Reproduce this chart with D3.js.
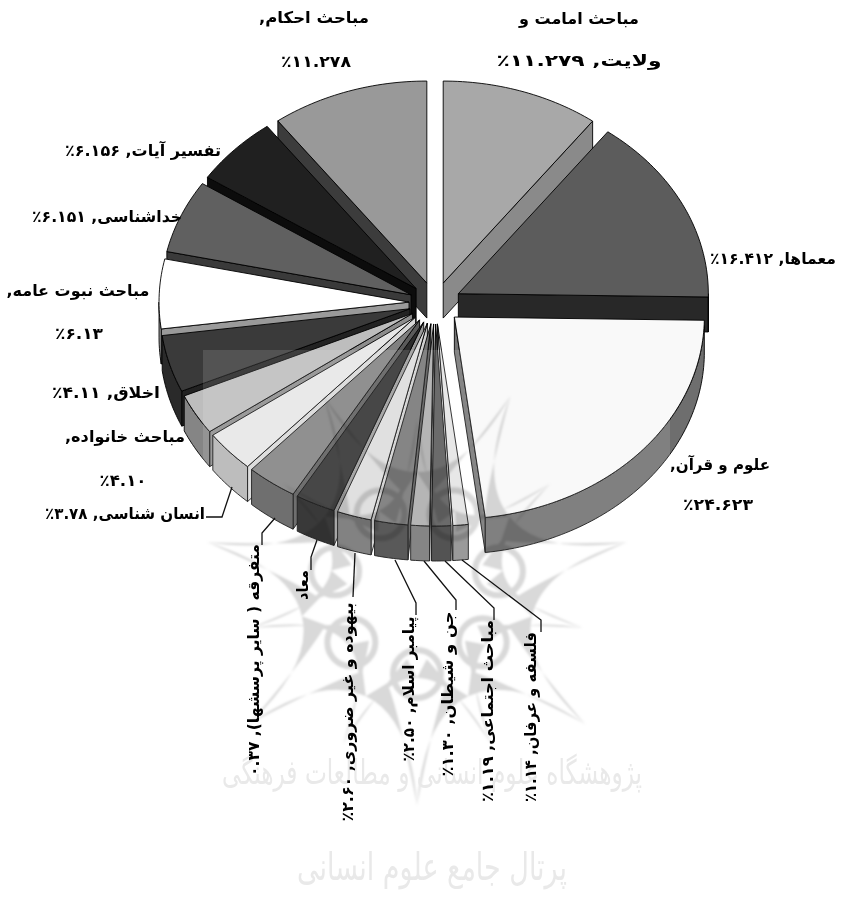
<!DOCTYPE html>
<html>
<head>
<meta charset="utf-8">
<script src="https://cdn.jsdelivr.net/npm/d3@7"></script>
<style>
  html, body { margin: 0; background: #fff; }
  svg { display: block; }
  text { font-family: "DejaVu Sans", sans-serif; font-weight: bold; fill: #000; }
</style>
</head>
<body>
<svg></svg>
<script>
// slice names, clockwise from 12 o'clock
const names = ['مباحث امامت و ولایت', 'معماها', 'علوم و قرآن', 'فلسفه و عرفان', 'مباحث اجتماعی',
  'جن و شیطان', 'پیامبر اسلام', 'بیهوده و غیر ضروری', 'معاد', 'متفرقه ( سایر پرسشها)',
  'انسان شناسی', 'مباحث خانواده', 'اخلاق', 'مباحث نبوت عامه', 'خداشناسی', 'تفسیر آیات', 'مباحث احکام'];
// printed next to each name ("percent.count")
const printed = ['۱۱.۲۷۹', '۱۶.۴۱۲', '۲۴.۶۲۳', '۱.۱۴', '۱.۱۹', '۱.۳۰', '۲.۵۰', '۲.۶۰', '',
  '۰.۳۷', '۳.۷۸', '۴.۱۰', '۴.۱۱', '۶.۱۳', '۶.۱۵۱', '۶.۱۵۶', '۱۱.۲۷۸'];
// slice sizes as they are drawn in the picture (they do not follow the small printed counts)
const sizes = [279, 412, 623, 27, 34, 33, 59, 61, 71, 90, 91, 89, 125, 152, 160, 152, 278];

const topColors = ['#a8a8a8', '#5c5c5c', '#f9f9f9', '#e4e4e4', '#555555', '#ababab', '#737373', '#dcdcdc',
  '#2c2c2c', '#808080', '#e6e6e6', '#bdbdbd', '#3a3a3a', '#ffffff', '#606060', '#202020', '#999999'];
const outerColors = ['#8a8a8a', '#282828', '#6e6e6e', '#8c8c8c', '#3a3a3a', '#737373', '#414141', '#707070',
  '#1c1c1c', '#5a5a5a', '#b4b4b4', '#858585', '#2a2a2a', '#9a9a9a', '#3a3a3a', '#0c0c0c', '#3c3c3c'];
const wallColors = ['#8a8a8a', '#282828', '#747474', '#e0e0e0', '#3a3a3a', '#cfcfcf', '#555555', '#d0d0d0',
  '#9a9a9a', '#5a5a5a', '#d8d8d8', '#8c8c8c', '#222222', '#9a9a9a', '#3a3a3a', '#0c0c0c', '#3c3c3c'];

const width = 841, height = 908;
const svg = d3.select('svg').attr('width', width).attr('height', height);

// unit disc -> screen
const x = d3.scaleLinear().domain([-1, 1]).range([185, 685]);
const y = d3.scaleLinear().domain([-1, 1]).range([101, 505]);
const depth = 35, pull = 0.104;

const slices = d3.pie().value(d => d).sort(null)(sizes).map((d, i) => {
  const mid = (d.startAngle + d.endAngle) / 2;
  return { ...d, i, mid, ox: pull * Math.sin(mid), oy: -pull * Math.cos(mid) };
});

const pt = (s, a, r, z) => [x(s.ox + r * Math.sin(a)), y(s.oy - r * Math.cos(a)) + z];
const line = d3.line();

function arcPoints(s, a0, a1, z) {
  const n = Math.max(2, Math.ceil((a1 - a0) / 0.02));
  return d3.range(n + 1).map(k => pt(s, a0 + (a1 - a0) * k / n, 1, z));
}

const pie = svg.append('g').attr('stroke', '#000').attr('stroke-width', 0.9).attr('stroke-linejoin', 'round');

// back slices first, so the front ones sit on top of them
slices.slice().sort((a, b) => Math.abs(b.mid - Math.PI) - Math.abs(a.mid - Math.PI)).forEach(s => {
  const g = pie.append('g');
  const wallAngle = s.mid < Math.PI ? s.endAngle : s.startAngle;
  const wall = [pt(s, 0, 0, 0), pt(s, wallAngle, 1, 0), pt(s, wallAngle, 1, depth), pt(s, 0, 0, depth)];
  g.append('path').attr('d', line(wall) + 'Z').attr('fill', wallColors[s.i]);

  const a0 = Math.max(s.startAngle, Math.PI / 2), a1 = Math.min(s.endAngle, 3 * Math.PI / 2);
  if (a1 > a0) {
    const rim = arcPoints(s, a0, a1, 0).concat(arcPoints(s, a0, a1, depth).reverse());
    g.append('path').attr('d', line(rim) + 'Z').attr('fill', outerColors[s.i]);
  }
  const face = [pt(s, 0, 0, 0)].concat(arcPoints(s, s.startAngle, s.endAngle, 0));
  g.append('path').attr('d', line(face) + 'Z').attr('fill', topColors[s.i]);
});

// watermark over the chart: pale sheet, then a seven point rosette
svg.append('rect').attr('x', 203).attr('y', 350).attr('width', 467).attr('height', 500)
  .attr('fill', '#fff').attr('opacity', 0.13);

const defs = svg.append('defs');
defs.append('filter').attr('id', 'soft').append('feGaussianBlur').attr('stdDeviation', 1.2);

const rosette = svg.append('g').attr('transform', 'translate(417,590)')
  .attr('fill', '#000').attr('opacity', 0.15).attr('filter', 'url(#soft)').style('mix-blend-mode', 'multiply');
const polar = (deg, r) => [r * Math.sin(deg * Math.PI / 180), -r * Math.cos(deg * Math.PI / 180)];
function spike(a, reach, st, inner, thick) {
  const tip = polar(a, reach);
  [-1, 1].forEach(side => {
    const end = polar(a + side * st, inner);
    const c1 = polar(a + side * 3, inner * 1.08), c2 = polar(a + side * 9, inner * 1.02);
    rosette.append('path').attr('d',
      `M${tip}Q${c1} ${end}L${polar(a + side * (st - 8), inner - thick)}Q${c2} ${tip}Z`);
  });
}
d3.range(7).forEach(k => {
  const st = 360 / 14, a = st + k * 360 / 7;
  spike(a, 215, st, 118, 20);
  spike(a + st, 170, st, 88, 18);
  const loop = polar(a, 84);
  rosette.append('circle').attr('cx', loop[0]).attr('cy', loop[1]).attr('r', 24)
    .attr('fill', 'none').attr('stroke', '#000').attr('stroke-width', 6);
});

// faint portal text at the foot of the page
const faint = svg.append('g').style('font-family', '"DejaVu Sans", sans-serif');
faint.append('text').attr('x', 432).attr('y', 784).attr('text-anchor', 'middle').attr('direction', 'rtl')
  .attr('textLength', 420).attr('lengthAdjust', 'spacingAndGlyphs')
  .style('fill', '#e9e9e9').style('font-size', '34px').style('font-weight', 'normal')
  .text('پژوهشگاه علوم انسانی و مطالعات فرهنگی');
faint.append('text').attr('x', 432).attr('y', 880).attr('text-anchor', 'middle').attr('direction', 'rtl')
  .attr('textLength', 270).attr('lengthAdjust', 'spacingAndGlyphs')
  .style('fill', '#e9e9e9').style('font-size', '38px').style('font-weight', 'normal')
  .text('پرتال جامع علوم انسانی');

// leaders of the outside labels
const leaderRoutes = [
  [10, [[232, 487], [222, 517], [206, 517]]],
  [9, [[275, 518], [262, 533], [262, 545]]],
  [8, [[317, 540], [311, 557], [311, 570]]],
  [7, [[355, 553], [353, 597]]],
  [6, [[395, 560], [416, 603], [416, 615]]],
  [5, [[424, 561], [456, 600], [456, 610]]],
  [4, [[445, 561], [494, 608], [494, 620]]],
  [3, [[462, 560], [541, 620], [541, 632]]]
];
svg.append('g').attr('fill', 'none').attr('stroke', '#111').attr('stroke-width', 1.3)
  .selectAll('path').data(leaderRoutes).join('path').attr('d', d => line(d[1]));

// label text: value comes after the name, or alone on a second line
const pct = i => printed[i] ? printed[i] + '٪' : '';
const both = i => names[i] + ', ' + pct(i);
const alone = i => '٪' + printed[i];

const labels = [
  { t: 'مباحث امامت و', cx: 579, cy: 24, w: 120 },
  { t: 'ولایت, ۱۱.۲۷۹٪', cx: 579, cy: 66, w: 165 },
  { t: both(1), cx: 773, cy: 264, w: 126 },
  { t: names[2] + ',', cx: 720, cy: 470, w: 100 },
  { t: alone(2), cx: 718, cy: 510, w: 70 },
  { t: both(3), cx: 530, cy: 717, w: 170, rot: 1 },
  { t: both(4), cx: 487, cy: 711, w: 182, rot: 1 },
  { t: both(5), cx: 447, cy: 694, w: 165, rot: 1 },
  { t: both(6), cx: 408, cy: 689, w: 145, rot: 1 },
  { t: both(7), cx: 347, cy: 712, w: 219, rot: 1 },
  { t: names[8], cx: 302, cy: 585, w: 30, rot: 1 },
  { t: names[9] + ', ۰.۳۷', cx: 253, cy: 660, w: 232, rot: 1 },
  { t: both(10), cx: 125, cy: 519, w: 160 },
  { t: names[11] + ',', cx: 125, cy: 442, w: 120 },
  { t: alone(11), cx: 123, cy: 486, w: 47 },
  { t: both(12), cx: 106, cy: 398, w: 108 },
  { t: names[13] + ',', cx: 78, cy: 296, w: 143 },
  { t: alone(13), cx: 79, cy: 339, w: 48 },
  { t: both(14), cx: 107, cy: 222, w: 150 },
  { t: both(15), cx: 143, cy: 156, w: 156 },
  { t: names[16] + ',', cx: 314, cy: 23, w: 110 },
  { t: alone(16), cx: 316, cy: 67, w: 70 }
];

svg.append('g').selectAll('text').data(labels).join('text')
  .attr('transform', d => `translate(${d.cx},${d.cy})` + (d.rot ? ' rotate(-90)' : ''))
  .attr('dy', d => d.rot ? '0.35em' : 0)
  .attr('text-anchor', 'middle').attr('direction', 'rtl')
  .attr('textLength', d => d.w).attr('lengthAdjust', 'spacingAndGlyphs')
  .style('font-size', '16px').text(d => d.t);
</script>
</body>
</html>
